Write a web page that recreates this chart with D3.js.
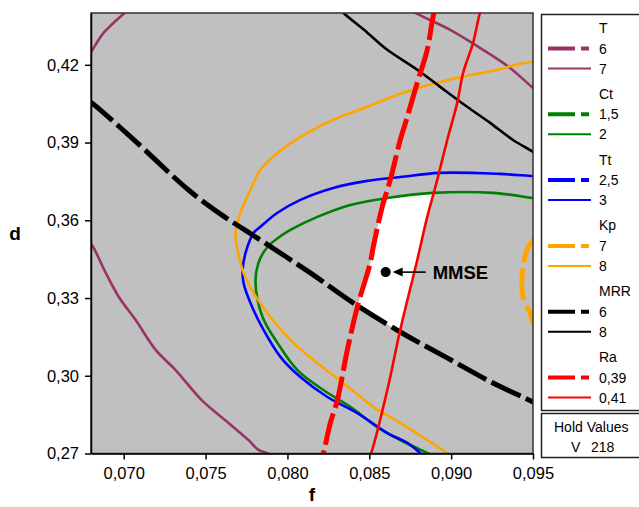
<!DOCTYPE html>
<html lang="en">
<head>
<meta charset="UTF-8">
<script src="https://d3js.org/d3.v7.min.js"></script>
<title>Overlaid contour plot</title>
<style>
  body { margin: 0; background: #fff; }
  svg { font-family: "Liberation Sans", Arial, sans-serif; }
  .axis text { font-size: 16.5px; fill: #000; }
  .axis path, .axis line { stroke: #000; stroke-width: 1.5; }
  .legend text { font-size: 14px; fill: #000; }
</style>
</head>
<body>
<svg id="chart" width="639" height="507"></svg>
<script>
// axis ticks
const xTicks = [0.070, 0.075, 0.080, 0.085, 0.090, 0.095];
const yTicks = [0.27, 0.30, 0.33, 0.36, 0.39, 0.42];

// contour lines, [f, d]
// T = 7 (three pieces inside the window)
const tSevenLeftTop = [[0.0679,0.4240],[0.06805,0.4254],[0.06878,0.4324],[0.07006,0.4401],[0.0703,0.4415]];
const tSevenLeftLow = [[0.0679,0.3512],[0.06805,0.3505],[0.06890,0.3397],[0.06970,0.3304],[0.07073,0.3215],[0.07195,0.3100],
  [0.07317,0.3022],[0.07476,0.2906],[0.07640,0.2818],[0.07762,0.2752],[0.07823,0.2714],[0.07872,0.2702],[0.0792,0.2690]];
const tSevenRight = [[0.0875,0.4415],[0.08780,0.4401],[0.08994,0.4335],[0.09195,0.4258],[0.09360,0.4188],[0.09500,0.4111],[0.0953,0.4098]];
// Ct = 2
const ctTwo = [[0.0953,0.3684],[0.09500,0.3686],[0.09256,0.3706],[0.08890,0.3706],[0.08610,0.3686],[0.08384,0.3659],[0.08183,0.3613],
  [0.08018,0.3563],[0.07970,0.3544],[0.07878,0.3497],[0.07823,0.3436],[0.07805,0.3358],[0.07848,0.3227],[0.07939,0.3127],
  [0.08061,0.3022],[0.08220,0.2945],[0.08384,0.2880],[0.08549,0.2802],[0.08689,0.2752],[0.08854,0.2702],[0.0890,0.2688]];
// Tt = 3
const ttThree = [[0.0953,0.3771],[0.09500,0.3771],[0.09299,0.3779],[0.08933,0.3783],[0.08689,0.3767],[0.08488,0.3752],[0.08280,0.3725],
  [0.08079,0.3679],[0.07939,0.3629],[0.07835,0.3575],[0.07793,0.3551],[0.07744,0.3474],[0.07726,0.3408],[0.07732,0.3358],
  [0.07774,0.3281],[0.07854,0.3177],[0.07957,0.3073],[0.08079,0.2995],[0.08244,0.2918],[0.08427,0.2856],[0.08610,0.2779],
  [0.08732,0.2741],[0.08811,0.2702],[0.0884,0.2688]];
// Kp = 7 and Kp = 8
const kpSeven = [[0.0953,0.3545],[0.09500,0.3524],[0.09463,0.3486],[0.09433,0.3381],[0.09439,0.3304],[0.09482,0.3242],[0.09500,0.3204],[0.0952,0.3185]];
const kpEight = [[0.0953,0.4215],[0.09500,0.4212],[0.09421,0.4204],[0.09256,0.4177],[0.09098,0.4158],[0.08890,0.4127],[0.08689,0.4088],
  [0.08488,0.4038],[0.08280,0.3988],[0.08079,0.3922],[0.07939,0.3860],[0.07835,0.3795],[0.07774,0.3717],[0.07713,0.3629],
  [0.07683,0.3551],[0.07695,0.3486],[0.07732,0.3397],[0.07793,0.3320],[0.07896,0.3227],[0.08037,0.3127],[0.08183,0.3049],
  [0.08341,0.2972],[0.08524,0.2880],[0.08689,0.2818],[0.08854,0.2752],[0.08976,0.2702],[0.0901,0.2688]];
// MRR = 6 and MRR = 8
const mrrSix = [[0.0678,0.4062],[0.06805,0.4053],[0.07049,0.3918],[0.07396,0.3717],[0.07598,0.3621],[0.07805,0.3536],[0.08140,0.3397],
  [0.08402,0.3281],[0.08689,0.3169],[0.08976,0.3069],[0.09256,0.2972],[0.09500,0.2899],[0.0953,0.2888]];
const mrrEight = [[0.0832,0.4415],[0.08341,0.4401],[0.08488,0.4324],[0.08610,0.4258],[0.08793,0.4181],[0.08933,0.4115],[0.09098,0.4038],
  [0.09238,0.3976],[0.09378,0.3910],[0.09500,0.3864],[0.0953,0.3850]];
// Ra = 0,39 and Ra = 0,41
const raLow = [[0.0891,0.4415],[0.08896,0.4401],[0.08854,0.4258],[0.08793,0.4131],[0.08732,0.3999],[0.08689,0.3910],[0.08628,0.3756],
  [0.08579,0.3652],[0.08524,0.3497],[0.08506,0.3436],[0.08427,0.3266],[0.08366,0.3100],[0.08305,0.2906],[0.08262,0.2818],
  [0.08220,0.2702],[0.0821,0.2685]];
const raHigh = [[0.0919,0.4415],[0.09177,0.4401],[0.09134,0.4285],[0.09073,0.4169],[0.09037,0.4053],[0.08976,0.3910],[0.08915,0.3756],
  [0.08854,0.3613],[0.08793,0.3447],[0.08689,0.3177],[0.08610,0.2945],[0.08512,0.2702],[0.0850,0.2685]];

// optimum point
const mmse = [0.086, 0.34];
const mmseLabel = "MMSE";

// legend
const legendTitles = ["T", "Ct", "Tt", "Kp", "MRR", "Ra"];
const legendLevels = [["6","7"], ["1,5","2"], ["2,5","3"], ["7","8"], ["6","8"], ["0,39","0,41"]];
const holdTitle = "Hold Values";
const holdName = "V";
const holdValue = "218";

const groupColors = ["#993366", "#008000", "#0000ff", "#ffa500", "#000000", "#ff0000"];

const svg = d3.select("#chart");
const plot = {left: 91, right: 533, top: 13, bottom: 453.5};

const x = d3.scaleLinear().domain([0.068, 0.095]).range([plot.left, plot.right]);
const y = d3.scaleLinear().domain([0.27, 0.44]).range([plot.bottom, plot.top]);
const line = d3.line().x(d => x(d[0])).y(d => y(d[1])).curve(d3.curveCatmullRom.alpha(0.5));
const comma = d3.formatLocale({decimal: ",", thousands: ".", grouping: [3], currency: ["", ""]});

const defs = svg.append("defs");
defs.append("clipPath").attr("id", "plotClip").append("rect")
  .attr("x", plot.left).attr("y", plot.top)
  .attr("width", plot.right - plot.left).attr("height", plot.bottom - plot.top);

// clip shapes for the feasible (white) region
const L = plot.left - 6, R = plot.right + 6, T = plot.top - 6, B = plot.bottom + 6;
const clipShapes = {
  rightOfRaLow: line(raLow) + `L${R},${B}L${R},${T}Z`,
  leftOfRaHigh: line(raHigh) + `L${L},${B}L${L},${T}Z`,
  aboveMrr: line(mrrSix) + `L${R},${T}L${L},${T}Z`,
  insideCt: line(ctTwo) + `L${R},${B}Z`
};
Object.entries(clipShapes).forEach(([id, d]) => {
  defs.append("clipPath").attr("id", id).append("path").attr("d", d);
});

// background
svg.append("rect")
  .attr("x", plot.left).attr("y", plot.top)
  .attr("width", plot.right - plot.left).attr("height", plot.bottom - plot.top)
  .attr("fill", "#c0c0c0");

let region = svg.append("g").attr("clip-path", "url(#plotClip)");
Object.keys(clipShapes).forEach(id => {
  region = region.append("g").attr("clip-path", `url(#${id})`);
});
region.append("rect")
  .attr("x", plot.left).attr("y", plot.top)
  .attr("width", plot.right - plot.left).attr("height", plot.bottom - plot.top)
  .attr("fill", "#fff");

// contours
const contours = [
  {pts: tSevenLeftTop, g: 0, dashed: false},
  {pts: tSevenLeftLow, g: 0, dashed: false},
  {pts: tSevenRight, g: 0, dashed: false},
  {pts: ctTwo, g: 1, dashed: false},
  {pts: ttThree, g: 2, dashed: false},
  {pts: kpSeven, g: 3, dashed: true},
  {pts: kpEight, g: 3, dashed: false},
  {pts: mrrSix, g: 4, dashed: true},
  {pts: mrrEight, g: 4, dashed: false},
  {pts: raLow, g: 5, dashed: true},
  {pts: raHigh, g: 5, dashed: false}
];

const lines = svg.append("g").attr("clip-path", "url(#plotClip)");
lines.selectAll("path").data(contours).join("path")
  .attr("d", d => line(d.pts))
  .attr("fill", "none")
  .attr("stroke", d => groupColors[d.g])
  .attr("stroke-width", d => d.dashed ? 5 : 2.6)
  .attr("stroke-dasharray", d => d.dashed ? "32,6" : null)
  .attr("stroke-linejoin", "round");

// MMSE marker
const mx = x(mmse[0]), my = y(mmse[1]);
svg.append("circle").attr("cx", mx).attr("cy", my).attr("r", 5).attr("fill", "#000");
svg.append("line")
  .attr("x1", mx + 12).attr("x2", mx + 40).attr("y1", my).attr("y2", my)
  .attr("stroke", "#000").attr("stroke-width", 1.6);
svg.append("path")
  .attr("d", `M${mx + 7},${my}L${mx + 17},${my - 4.5}L${mx + 17},${my + 4.5}Z`)
  .attr("fill", "#000");
svg.append("text")
  .attr("x", mx + 47).attr("y", my + 6.5)
  .attr("font-size", 18.5).attr("font-weight", "bold")
  .text(mmseLabel);

// frame
svg.append("rect")
  .attr("x", plot.left).attr("y", plot.top)
  .attr("width", plot.right - plot.left).attr("height", plot.bottom - plot.top)
  .attr("fill", "none").attr("stroke", "#333").attr("stroke-width", 1.5);

// axes
svg.append("g").attr("class", "axis")
  .attr("transform", `translate(0,${plot.bottom})`)
  .call(d3.axisBottom(x).tickValues(xTicks).tickFormat(comma.format(".3f"))
    .tickSize(6).tickSizeOuter(0).tickPadding(8))
  .attr("font-family", null).attr("font-size", null);

svg.append("g").attr("class", "axis")
  .attr("transform", `translate(${plot.left},0)`)
  .call(d3.axisLeft(y).tickValues(yTicks).tickFormat(comma.format(".2f"))
    .tickSize(6).tickSizeOuter(0).tickPadding(6))
  .attr("font-family", null).attr("font-size", null);

svg.append("text").attr("x", 15).attr("y", 240)
  .attr("text-anchor", "middle").attr("font-size", 19).attr("font-weight", "bold").text("d");
svg.append("text").attr("x", 312).attr("y", 501)
  .attr("text-anchor", "middle").attr("font-size", 19).attr("font-weight", "bold").text("f");

// legend
const legend = svg.append("g").attr("class", "legend");
legend.append("rect")
  .attr("x", 541.5).attr("y", 14.5).attr("width", 110).attr("height", 396)
  .attr("fill", "#fff").attr("stroke", "#222").attr("stroke-width", 1.5);

legendTitles.forEach((t, i) => {
  const ty = 28 + i * 65.8;
  legend.append("text").attr("x", 599).attr("y", ty + 5).text(t);
  legendLevels[i].forEach((lv, j) => {
    const ly = ty + 20.5 + j * 20;
    legend.append("line")
      .attr("x1", 548).attr("x2", j === 0 ? 589 : 591)
      .attr("y1", ly).attr("y2", ly)
      .attr("stroke", groupColors[i])
      .attr("stroke-width", j === 0 ? 4 : 2)
      .attr("stroke-dasharray", j === 0 ? "27,6,8,40" : null);
    legend.append("text").attr("x", 599).attr("y", ly + 5).text(lv);
  });
});

legend.append("rect")
  .attr("x", 541.5).attr("y", 413.5).attr("width", 110).attr("height", 44)
  .attr("fill", "#fff").attr("stroke", "#222").attr("stroke-width", 1.5);
legend.append("text").attr("x", 554).attr("y", 432).text(holdTitle);
legend.append("text").attr("x", 571).attr("y", 452).text(holdName);
legend.append("text").attr("x", 591).attr("y", 452).text(holdValue);
</script>
</body>
</html>
